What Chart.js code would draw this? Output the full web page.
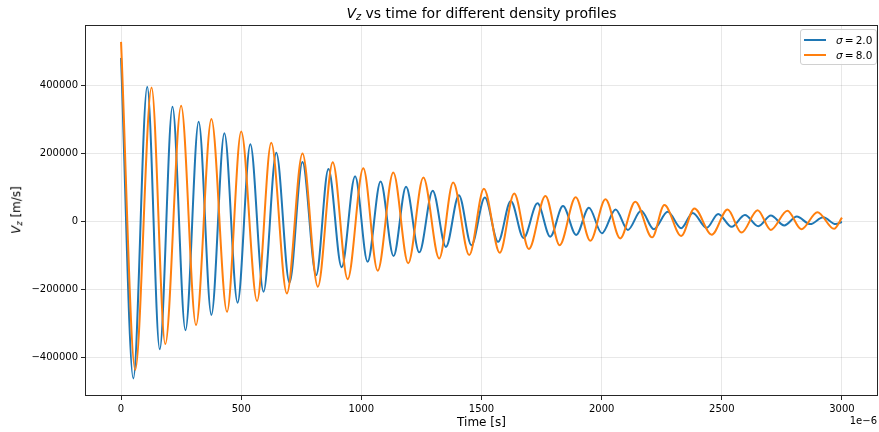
<!DOCTYPE html>
<html>
<head>
<meta charset="utf-8">
<script src="https://cdn.jsdelivr.net/npm/chart.js@4/dist/chart.umd.min.js"></script>
<style>
  body { margin: 0; background: #fff; }
  #wrap { position: relative; width: 879px; height: 432px; font-family: "DejaVu Sans", sans-serif; color: #000; }
  #chart { position: absolute; left: 0; top: 0; }
  .txt { position: absolute; white-space: nowrap; line-height: 1; }
  #title { left: 85px; width: 793px; top: 6px; text-align: center; font-size: 14px; }
  #xlabel { left: 85px; width: 793px; top: 416px; text-align: center; font-size: 12px; }
  #offset { right: 2px; top: 416px; font-size: 10px; }
  #ylabel { left: 17px; top: 210px; font-size: 12px; transform: translate(-50%, -50%) rotate(-90deg); }
  sub { font-size: 70%; vertical-align: -0.25em; }
  #legend { position: absolute; left: 800px; top: 29px; width: 75px; height: 34px; border: 1px solid #d0d0d0; border-radius: 3px; background: rgba(255,255,255,0.85); font-size: 10.5px; }
  .item { position: absolute; left: 3px; width: 70px; height: 14px; }
  .swatch { position: absolute; left: 0; top: 6px; width: 22px; height: 2px; }
  .lab { position: absolute; left: 32px; top: 1px; white-space: nowrap; }
</style>
</head>
<body>
<div id="wrap">
  <canvas id="chart" width="879" height="432"></canvas>
  <div id="title" class="txt"><i>V</i><sub><i>z</i></sub> vs time for different density profiles</div>
  <div id="xlabel" class="txt">Time [s]</div>
  <div id="offset" class="txt">1e&minus;6</div>
  <div id="ylabel" class="txt"><i>V</i><sub><i>z</i></sub> [m/s]</div>
  <div id="legend">
    <div class="item" style="top:3px"><div class="swatch" style="background:#1f77b4"></div><div class="lab"><i>σ</i>&thinsp;=&thinsp;2.0</div></div>
    <div class="item" style="top:18px"><div class="swatch" style="background:#ff7f0e"></div><div class="lab"><i>σ</i>&thinsp;=&thinsp;8.0</div></div>
  </div>
</div>
<script>
// peaks / troughs (time in units of 1e-6 s, Vz in m/s)
const blueT = [0, 51, 109, 161, 214, 268, 323, 376, 430, 485,
  538, 593, 646, 701, 755, 812, 863, 918, 974, 1026,
  1080, 1134, 1186, 1241, 1297, 1352, 1406, 1458, 1514, 1569,
  1622, 1675, 1733, 1786, 1839, 1894, 1947, 2001, 2058, 2109,
  2164, 2217, 2275, 2331, 2379, 2437, 2485, 2541, 2596, 2652,
  2704, 2760, 2812, 2868, 2922, 2974, 3000];
const blueV = [480000, -463000, 395000, -377000, 336000, -321000, 292000, -276000, 258000, -240000,
  226000, -208000, 201000, -181000, 174000, -159000, 153000, -136000, 132000, -120000,
  116000, -103000, 101000, -92000, 89000, -76000, 76000, -71000, 69000, -61000,
  59000, -50000, 52000, -46000, 44000, -41000, 39000, -36000, 34000, -26000,
  30000, -24000, 27000, -21000, 24000, -20000, 21000, -17000, 18000, -15000,
  16000, -13000, 13000, -9000, 11000, -9000, -3000];

const orangeT = [0, 59, 127, 184, 250, 312, 376, 441, 500, 566,
  625, 690, 755, 819, 881, 943, 1008, 1068, 1133, 1195,
  1258, 1324, 1382, 1449, 1510, 1576, 1636, 1697, 1766, 1825,
  1892, 1953, 2016, 2077, 2140, 2210, 2261, 2331, 2386, 2458,
  2524, 2582, 2649, 2704, 2773, 2831, 2898, 2967, 3000];
const orangeV = [527000, -438000, 393000, -362000, 339000, -306000, 300000, -267000, 263000, -235000,
  230000, -213000, 199000, -193000, 173000, -171000, 155000, -146000, 143000, -124000,
  128000, -110000, 113000, -100000, 95000, -93000, 81000, -82000, 74000, -71000,
  70000, -58000, 64000, -51000, 57000, -48000, 47000, -44000, 37000, -40000,
  34000, -34000, 32000, -26000, 30000, -24000, 26000, -23000, 10000];

const xTicks = [0, 500, 1000, 1500, 2000, 2500, 3000];
const yTicks = [-400000, -200000, 0, 200000, 400000];

function toPoints(xs, ys) {
  return xs.map((x, i) => ({ x: x, y: ys[i] }));
}

// box around the axes like matplotlib spines
const framePlugin = {
  id: "frame",
  afterDraw(chart) {
    const a = chart.chartArea;
    const ctx = chart.ctx;
    ctx.save();
    ctx.strokeStyle = "#262626";
    ctx.lineWidth = 1;
    ctx.strokeRect(Math.round(a.left) + 0.5, Math.round(a.top) + 0.5,
      Math.round(a.right - a.left) - 1, Math.round(a.bottom - a.top) - 1);
    ctx.restore();
  },
};

const tickFont = { family: "DejaVu Sans", size: 10 };

new Chart(document.getElementById("chart"), {
  type: "line",
  data: {
    datasets: [
      {
        label: "σ = 2.0",
        data: toPoints(blueT, blueV),
        borderColor: "#1f77b4",
        order: 1,
      },
      {
        label: "σ = 8.0",
        data: toPoints(orangeT, orangeV),
        borderColor: "#ff7f0e",
        order: 0,
      },
    ],
  },
  options: {
    responsive: false,
    animation: false,
    layout: { padding: { left: 0, right: 1, top: 25, bottom: 0 } },
    elements: {
      point: { radius: 0 },
      line: { borderWidth: 2, cubicInterpolationMode: "monotone", fill: false },
    },
    plugins: { legend: { display: false }, tooltip: { enabled: false } },
    scales: {
      x: {
        type: "linear",
        min: -150,
        max: 3150,
        afterBuildTicks(scale) { scale.ticks = xTicks.map((v) => ({ value: v })); },
        afterFit(scale) { scale.height = 36; },
        border: { display: false },
        grid: { color: "rgba(0,0,0,0.09)", tickColor: "#262626", tickLength: 4 },
        ticks: { font: tickFont, color: "#000", padding: 3, maxRotation: 0,
          callback: (v) => String(v).replace("-", "\u2212") },
      },
      y: {
        type: "linear",
        min: -514600,
        max: 576600,
        afterBuildTicks(scale) { scale.ticks = yTicks.map((v) => ({ value: v })); },
        afterFit(scale) { scale.width = 85; },
        border: { display: false },
        grid: { color: "rgba(0,0,0,0.09)", tickColor: "#262626", tickLength: 4 },
        ticks: { font: tickFont, color: "#000", padding: 3,
          callback: (v) => String(v).replace("-", "\u2212") },
      },
    },
  },
  plugins: [framePlugin],
});
</script>
</body>
</html>
